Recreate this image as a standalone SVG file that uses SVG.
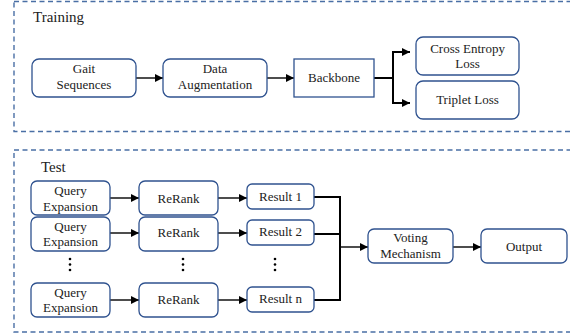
<svg xmlns="http://www.w3.org/2000/svg" width="570" height="334" viewBox="0 0 570 334">
<style>
.frame{fill:none;stroke:#4a6fa5;stroke-width:1.4;stroke-dasharray:5 3.5}
.box{fill:#fff;stroke:#2f528f;stroke-width:1.3}
.t{font-size:13px;fill:#222;text-anchor:middle}
.title{font-size:15px;fill:#222}
.a{fill:none;stroke:#000;stroke-width:1.4}
.j{fill:none;stroke:#000;stroke-width:2}
.dot{fill:#000}
</style>
<defs>
<marker id="arr" viewBox="0 0 10 10" refX="10" refY="5" markerWidth="8" markerHeight="8" markerUnits="userSpaceOnUse" orient="auto">
<path d="M0,0 L10,5 L0,10 z" fill="#000"/>
</marker>
</defs>
<g font-family="Liberation Serif, Times New Roman, DejaVu Serif, serif">
<rect class="frame" x="14" y="1.5" width="570" height="130"/>
<rect class="frame" x="14" y="150" width="570" height="182"/>
<text class="title" x="33" y="22">Training</text>
<text class="title" x="41" y="172">Test</text>

<g id="connectors">
<path class="a" d="M136,78 H163" marker-end="url(#arr)"/>
<path class="a" d="M267,78 H294" marker-end="url(#arr)"/>
<path class="j" d="M374,78 H393"/>
<path class="j" d="M393,52 V103"/>
<path class="j" d="M392,52 H410" marker-end="url(#arr)"/>
<path class="j" d="M392,103 H410" marker-end="url(#arr)"/>
<path class="a" d="M110,198 H139" marker-end="url(#arr)"/>
<path class="a" d="M110,233 H139" marker-end="url(#arr)"/>
<path class="a" d="M110,300 H139" marker-end="url(#arr)"/>
<path class="a" d="M218,198 H247" marker-end="url(#arr)"/>
<path class="a" d="M218,233 H247" marker-end="url(#arr)"/>
<path class="a" d="M218,300 H247" marker-end="url(#arr)"/>
<path class="j" d="M314,197 H340 V300 H314"/>
<path class="j" d="M314,234 H340"/>
<path class="a" d="M340,247 H368" marker-end="url(#arr)"/>
<path class="a" d="M453,247 H481" marker-end="url(#arr)"/>
</g>

<g id="gait"><rect class="box" x="32" y="59" width="104" height="38" rx="7"/><text class="t" x="84" y="73">Gait</text><text class="t" x="84" y="89">Sequences</text></g>
<g id="aug"><rect class="box" x="163" y="59" width="104" height="38" rx="7"/><text class="t" x="215" y="73">Data</text><text class="t" x="215" y="89">Augmentation</text></g>
<g id="backbone"><rect class="box" x="294" y="59" width="80" height="38"/><text class="t" x="334" y="82">Backbone</text></g>
<g id="ce"><rect class="box" x="416" y="37" width="103" height="38" rx="7"/><text class="t" x="467.5" y="53">Cross Entropy</text><text class="t" x="467.5" y="68">Loss</text></g>
<g id="triplet"><rect class="box" x="416" y="81" width="103" height="38" rx="7"/><text class="t" x="467.5" y="104">Triplet Loss</text></g>

<g id="qe1"><rect class="box" x="31" y="181" width="79" height="34" rx="6"/><text class="t" x="70.5" y="195">Query</text><text class="t" x="70.5" y="211">Expansion</text></g>
<g id="qe2"><rect class="box" x="31" y="217" width="79" height="34" rx="6"/><text class="t" x="70.5" y="231">Query</text><text class="t" x="70.5" y="246">Expansion</text></g>
<g id="qen"><rect class="box" x="31" y="283" width="79" height="34" rx="6"/><text class="t" x="70.5" y="297">Query</text><text class="t" x="70.5" y="312">Expansion</text></g>
<g id="rr1"><rect class="box" x="139" y="181" width="79" height="34" rx="6"/><text class="t" x="178.5" y="203">ReRank</text></g>
<g id="rr2"><rect class="box" x="139" y="217" width="79" height="34" rx="6"/><text class="t" x="178.5" y="237">ReRank</text></g>
<g id="rrn"><rect class="box" x="139" y="283" width="79" height="34" rx="6"/><text class="t" x="178.5" y="304">ReRank</text></g>
<g id="res1"><rect class="box" x="247" y="184" width="67" height="25" rx="5"/><text class="t" x="280.5" y="201">Result 1</text></g>
<g id="res2"><rect class="box" x="247" y="220" width="67" height="25" rx="5"/><text class="t" x="280.5" y="236">Result 2</text></g>
<g id="resn"><rect class="box" x="247" y="287" width="67" height="25" rx="5"/><text class="t" x="280.5" y="303">Result n</text></g>
<g id="voting"><rect class="box" x="368" y="229" width="85" height="34" rx="6"/><text class="t" x="410.5" y="242">Voting</text><text class="t" x="410.5" y="258">Mechanism</text></g>
<g id="output"><rect class="box" x="481" y="229" width="86" height="34" rx="6"/><text class="t" x="524" y="251">Output</text></g>

<g id="dots">
<circle class="dot" cx="70" cy="259" r="1.3"/><circle class="dot" cx="70" cy="264.5" r="1.3"/><circle class="dot" cx="70" cy="270" r="1.3"/>
<circle class="dot" cx="183" cy="259" r="1.3"/><circle class="dot" cx="183" cy="264.5" r="1.3"/><circle class="dot" cx="183" cy="270" r="1.3"/>
<circle class="dot" cx="275" cy="259" r="1.3"/><circle class="dot" cx="275" cy="264.5" r="1.3"/><circle class="dot" cx="275" cy="270" r="1.3"/>
</g>
</g>
</svg>
